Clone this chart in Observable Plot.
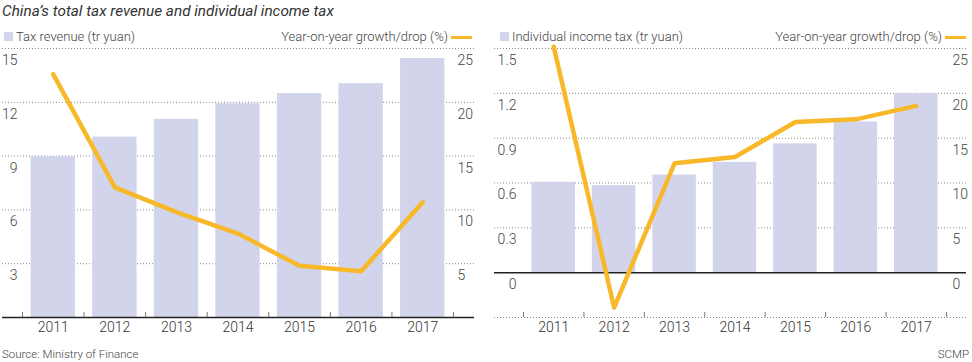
<!DOCTYPE html>
<html>
<head>
<meta charset="utf-8">
<script src="https://cdn.jsdelivr.net/npm/d3@7"></script>
<script src="https://cdn.jsdelivr.net/npm/@observablehq/plot@0.6"></script>
<style>
  html, body { margin: 0; padding: 0; background: #fff; }
  #wrap { position: relative; width: 972px; height: 362px; overflow: hidden;
          font-family: Roboto, "Noto Sans", sans-serif; font-weight: 300; color: #444; }
  .abs { position: absolute; white-space: nowrap; }
  #title { left: 2px; top: 1px; font-size: 15.3px; font-style: italic; color: #333; line-height: 20px; font-weight: 400; }
  .leg { font-size: 13px; line-height: 16px; color: #444; }
  .sw { position: absolute; width: 9px; height: 9px; background: #d2d4ec; }
  .ln { position: absolute; width: 21px; height: 3px; background: #f7b82a; }
  .foot { font-size: 11.5px; line-height: 14px; color: #444; }
</style>
</head>
<body>
<div id="wrap">
  <div id="left" class="abs" style="left:0;top:0"></div>
  <div id="right" class="abs" style="left:486px;top:0"></div>
  <div id="title" class="abs">China’s total tax revenue and individual income tax</div>
  <div class="sw" style="left:4px;top:32px"></div>
  <div class="abs leg" style="left:16px;top:29px">Tax revenue (tr yuan)</div>
  <div class="abs leg" style="right:524px;top:29px">Year-on-year growth/drop (%)</div>
  <div class="ln" style="left:451px;top:36px"></div>
  <div class="sw" style="left:500px;top:32px"></div>
  <div class="abs leg" style="left:512px;top:29px">Individual income tax (tr yuan)</div>
  <div class="abs leg" style="right:30px;top:29px">Year-on-year growth/drop (%)</div>
  <div class="ln" style="left:945px;top:36px"></div>
  <div class="abs foot" style="left:2px;top:347px">Source: Ministry of Finance</div>
  <div class="abs foot" style="right:3px;top:347px">SCMP</div>
</div>
<script>
// ---- data ----
const years = ["2011", "2012", "2013", "2014", "2015", "2016", "2017"];
const taxRevenue = [8.97, 10.06, 11.05, 11.92, 12.49, 13.04, 14.44];
const taxGrowth = [22.6, 12.1, 9.8, 7.8, 4.8, 4.3, 10.7];
const incomeTax = [0.605, 0.582, 0.653, 0.738, 0.862, 1.009, 1.197];
const incomeGrowth = [25.2, -3.9, 12.2, 12.9, 16.8, 17.1, 18.6];
const leftTicksA = [3, 6, 9, 12, 15];
const rightTicksA = [5, 10, 15, 20, 25];
const leftTicksB = [0, 0.3, 0.6, 0.9, 1.2, 1.5];
const rightTicksB = [0, 5, 10, 15, 20, 25];

const BAR = "#d2d4ec", LINE = "#f7b82a", FONT = "Roboto, 'Noto Sans', sans-serif";

function panel({values, growth, yDomain, ratio, leftTicks, rightTicks, grid, base,
                xRange, mLeft, mRight, leftDx, rightDx}) {
  const rows = years.map((y, i) => ({year: y, value: values[i], growth: growth[i]}));
  const step = (xRange[1] - xRange[0]) / years.length;
  return Plot.plot({
    width: 486, height: 340,
    marginTop: 48, marginBottom: 23, marginLeft: mLeft, marginRight: mRight,
    style: {fontFamily: FONT, fontSize: "14px", fontWeight: 300, color: "#555", background: "transparent", overflow: "visible"},
    x: {type: "band", domain: years, range: xRange, paddingInner: 0.28, paddingOuter: 0.14, round: false, axis: null},
    y: {domain: yDomain, axis: null},
    marks: [
      Plot.ruleY(grid, {stroke: "#888", strokeWidth: 1, strokeDasharray: "1,2"}),
      Plot.barY(rows, {x: "year", y: "value", fill: BAR}),
      Plot.ruleY([0], {stroke: "#222", strokeWidth: 1.5}),
      Plot.ruleX(years, {x: d => d, y1: base, y2: base, insetTop: -5, dx: -step / 2, stroke: "#777"}),
      Plot.ruleX(years.slice(-1), {x: d => d, y1: base, y2: base, insetTop: -5, dx: step / 2, stroke: "#777"}),
      Plot.line(rows, {x: "year", y: d => d.growth * ratio, stroke: LINE, strokeWidth: 4.5,
                       strokeLinecap: "round", strokeLinejoin: "round"}),
      Plot.text(years, {x: d => d, text: d => d, frameAnchor: "bottom", dy: 14, fill: "#333"}),
      Plot.text(leftTicks, {y: d => d, text: d => String(d), frameAnchor: "left", textAnchor: "end", dx: leftDx, dy: 12, fill: "#444"}),
      Plot.text(rightTicks, {y: d => d * ratio, text: d => String(d), frameAnchor: "right", textAnchor: "start", dx: rightDx, dy: 12, fill: "#444"})
    ]
  });
}

document.getElementById("left").append(panel({
  values: taxRevenue, growth: taxGrowth, yDomain: [0, 15], ratio: 15 / 25,
  leftTicks: leftTicksA, rightTicks: rightTicksA, grid: leftTicksA, base: 0,
  xRange: [22, 453], mLeft: 2, mRight: 12, leftDx: 15, rightDx: -17
}));
document.getElementById("right").append(panel({
  values: incomeTax, growth: incomeGrowth, yDomain: [-0.3, 1.5], ratio: 1.5 / 25,
  leftTicks: leftTicksB, rightTicks: rightTicksB, grid: [-0.3, 0.3, 0.6, 0.9, 1.2, 1.5], base: -0.3,
  xRange: [37, 460], mLeft: 8, mRight: 6, leftDx: 22, rightDx: -14
}));
</script>
</body>
</html>
